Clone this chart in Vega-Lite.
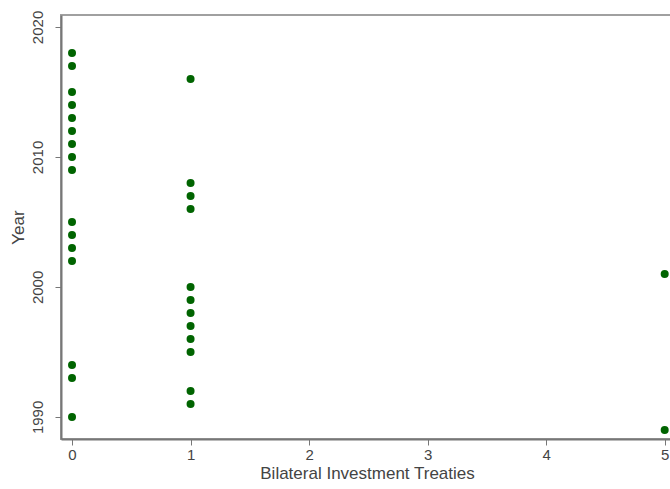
{
  "$schema": "https://vega.github.io/schema/vega-lite/v6.json",
  "width": 612,
  "height": 424,
  "autosize": {"type": "none"},
  "padding": {"left": 61, "top": 15, "right": 0, "bottom": 50},
  "background": "white",
  "config": {
    "view": {"stroke": "#a0a0a0", "strokeWidth": 2},
    "font": "Liberation Sans",
    "axis": {
      "labelFont": "Liberation Sans",
      "titleFont": "Liberation Sans",
      "labelFontSize": 15,
      "titleFontSize": 17,
      "labelColor": "#444",
      "titleColor": "#444",
      "titleFontWeight": "normal",
      "domainColor": "#777",
      "domainWidth": 2,
      "tickColor": "#777",
      "tickWidth": 1,
      "tickSize": 6,
      "grid": false
    }
  },
  "data": {
    "values": [
      {"bit": 0, "year": 2018}, {"bit": 0, "year": 2017}, {"bit": 0, "year": 2015},
      {"bit": 0, "year": 2014}, {"bit": 0, "year": 2013}, {"bit": 0, "year": 2012},
      {"bit": 0, "year": 2011}, {"bit": 0, "year": 2010}, {"bit": 0, "year": 2009},
      {"bit": 0, "year": 2005}, {"bit": 0, "year": 2004}, {"bit": 0, "year": 2003},
      {"bit": 0, "year": 2002}, {"bit": 0, "year": 1994}, {"bit": 0, "year": 1993},
      {"bit": 0, "year": 1990},
      {"bit": 1, "year": 2016}, {"bit": 1, "year": 2008}, {"bit": 1, "year": 2007},
      {"bit": 1, "year": 2006}, {"bit": 1, "year": 2000}, {"bit": 1, "year": 1999},
      {"bit": 1, "year": 1998}, {"bit": 1, "year": 1997}, {"bit": 1, "year": 1996},
      {"bit": 1, "year": 1995}, {"bit": 1, "year": 1992}, {"bit": 1, "year": 1991},
      {"bit": 5, "year": 2001}, {"bit": 5, "year": 1989}
    ]
  },
  "mark": {"type": "circle", "size": 64, "color": "#006400", "opacity": 1},
  "encoding": {
    "x": {
      "field": "bit",
      "type": "quantitative",
      "title": "Bilateral Investment Treaties",
      "scale": {"domain": [-0.093, 5.07], "nice": false, "zero": false},
      "axis": {"values": [0, 1, 2, 3, 4, 5], "labelPadding": 2, "titlePadding": 3}
    },
    "y": {
      "field": "year",
      "type": "quantitative",
      "title": "Year",
      "scale": {"domain": [1988.3, 2020.92], "nice": false, "zero": false},
      "axis": {
        "values": [1990, 2000, 2010, 2020],
        "labelAngle": -90,
        "labelAlign": "center",
        "labelBaseline": "bottom",
        "labelPadding": 10,
        "titlePadding": 3,
        "format": "d"
      }
    }
  }
}
